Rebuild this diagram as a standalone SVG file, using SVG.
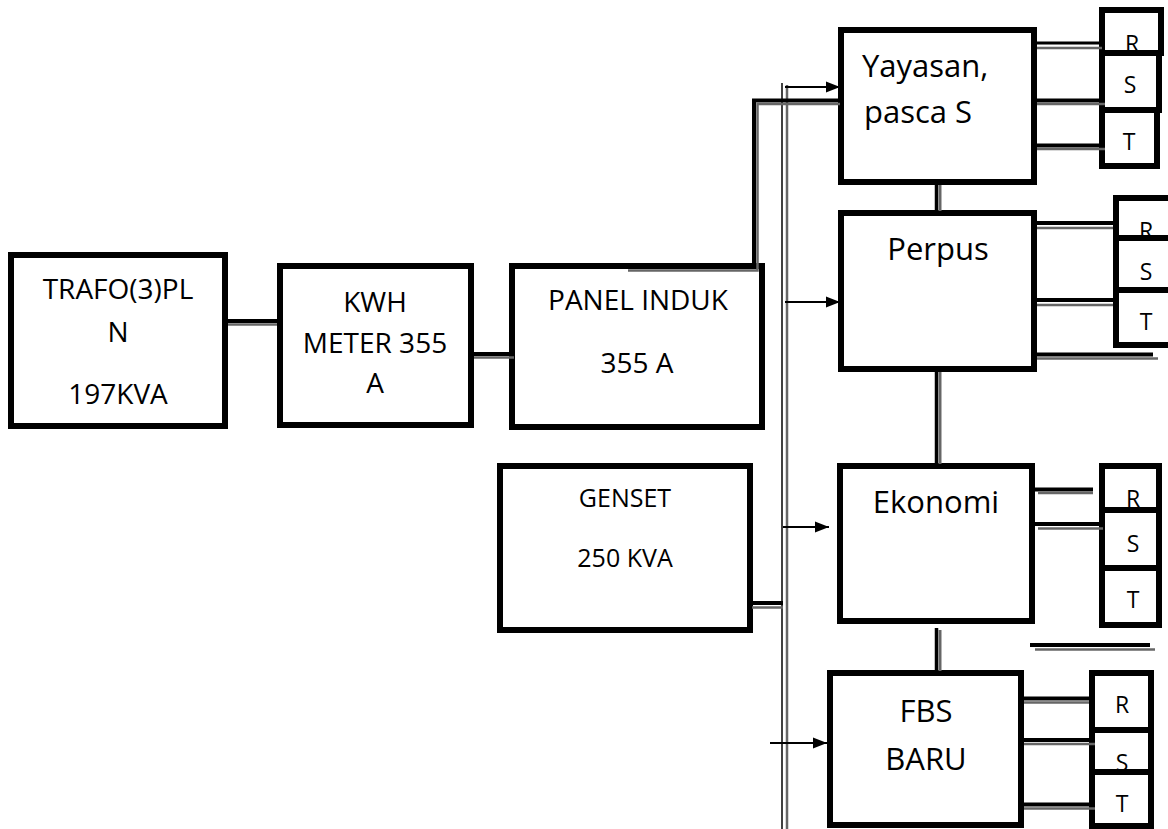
<svg xmlns="http://www.w3.org/2000/svg" width="1168" height="829" viewBox="0 0 1168 829">
<style>
.box{fill:#fff;stroke:#000;stroke-width:6}
.t{font-family:"Open Sans","Noto Sans","Liberation Sans",sans-serif;fill:#000;text-anchor:middle}
.f28{font-size:28px}
.f25{font-size:25px}
.f31{font-size:31px}
.f24{font-size:23px}
.cb{stroke:#000;stroke-width:4;fill:none}
.cg{stroke:#666;stroke-width:2.5;fill:none}
.arr{stroke:#000;stroke-width:2;fill:none;marker-end:url(#ah)}
</style>
<defs>
<marker id="ah" markerUnits="userSpaceOnUse" markerWidth="15" markerHeight="12" refX="14" refY="6" orient="auto">
<path d="M0,0.5 L14,6 L0,11.5 z" fill="#000"/>
</marker>
</defs>
<rect width="1168" height="829" fill="#fff"/>

<g id="trafo">
<rect class="box" x="11" y="255" width="214" height="171"/>
<text class="t f28" x="118" y="299">TRAFO(3)PL</text>
<text class="t f28" x="118" y="342">N</text>
<text class="t f28" x="118" y="404">197KVA</text>
</g>
<g id="kwh">
<rect class="box" x="280" y="266" width="191" height="159"/>
<text class="t f28" x="375" y="312">KWH</text>
<text class="t f28" x="375" y="353">METER 355</text>
<text class="t f28" x="375" y="393">A</text>
</g>
<g id="panel">
<rect class="box" x="512" y="266" width="250" height="161"/>
<text class="t f28" x="638" y="310">PANEL INDUK</text>
<text class="t f28" x="637" y="373">355 A</text>
</g>
<g id="genset">
<rect class="box" x="500" y="466" width="250" height="164"/>
<text class="t f25" x="625" y="507">GENSET</text>
<text class="t f25" x="625" y="567">250 KVA</text>
</g>
<g id="yayasan">
<rect class="box" x="841" y="30" width="193" height="152"/>
<text class="t f31" x="862" y="77" style="text-anchor:start">Yayasan,</text>
<text class="t f31" x="864" y="123" style="text-anchor:start">pasca S</text>
</g>
<g id="perpus">
<rect class="box" x="841" y="213" width="193" height="156"/>
<text class="t f31" x="938" y="260">Perpus</text>
</g>
<g id="ekonomi">
<rect class="box" x="840" y="466" width="192" height="155"/>
<text class="t f31" x="936" y="513">Ekonomi</text>
</g>
<g id="fbs">
<rect class="box" x="830" y="673" width="191" height="152"/>
<text class="t f31" x="926" y="722">FBS</text>
<text class="t f31" x="926" y="770">BARU</text>
</g>

<g id="rst-yayasan">
<rect class="box" x="1102" y="10" width="59" height="43"/>
<text class="t f24" x="1132" y="52">R</text>
<rect class="box" x="1102" y="53" width="57" height="57"/>
<text class="t f24" x="1130" y="93">S</text>
<rect class="box" x="1102" y="110" width="55" height="56"/>
<text class="t f24" x="1129" y="150">T</text>
</g>
<g id="rst-perpus">
<rect class="box" x="1116" y="198" width="60" height="40"/>
<text class="t f24" x="1146" y="239">R</text>
<rect class="box" x="1116" y="238" width="60" height="52"/>
<text class="t f24" x="1146" y="280">S</text>
<rect class="box" x="1116" y="290" width="60" height="55"/>
<text class="t f24" x="1146" y="330">T</text>
</g>
<g id="rst-ekonomi">
<rect class="box" x="1102" y="466" width="57" height="44"/>
<text class="t f24" x="1133" y="507">R</text>
<rect class="box" x="1102" y="510" width="57" height="58"/>
<text class="t f24" x="1133" y="552">S</text>
<rect class="box" x="1102" y="568" width="57" height="57"/>
<text class="t f24" x="1133" y="608">T</text>
</g>
<g id="rst-fbs">
<rect class="box" x="1092" y="673" width="59" height="57"/>
<text class="t f24" x="1122" y="713">R</text>
<rect class="box" x="1092" y="730" width="59" height="42"/>
<text class="t f24" x="1122" y="771">S</text>
<rect class="box" x="1092" y="772" width="59" height="54"/>
<text class="t f24" x="1122" y="812">T</text>
</g>

<g id="connectors">
<!-- bus -->
<line x1="782" y1="83" x2="782" y2="829" stroke="#000" stroke-width="1.5"/>
<line x1="787" y1="85" x2="787" y2="829" stroke="#666" stroke-width="2.5"/>
<!-- trafo - kwh -->
<line class="cb" x1="228" y1="321" x2="277" y2="321"/>
<line class="cg" x1="228" y1="324.5" x2="277" y2="324.5"/>
<!-- kwh - panel -->
<line class="cb" x1="474" y1="354" x2="512" y2="354"/>
<line class="cg" x1="474" y1="357.5" x2="514" y2="357.5"/>
<!-- panel - yayasan -->
<polyline class="cb" points="754,267 754,100.5 840,100.5"/>
<polyline class="cg" points="628,270.5 757.5,270.5 757.5,104 840,104"/>
<!-- genset - bus -->
<line class="cb" x1="752" y1="603" x2="783" y2="603"/>
<line class="cg" x1="752" y1="607.5" x2="783" y2="607.5"/>
<!-- arrows -->
<line class="arr" x1="785" y1="87" x2="840" y2="87"/>
<line class="arr" x1="785" y1="302" x2="840" y2="302"/>
<line class="arr" x1="783" y1="527" x2="829" y2="527"/>
<line class="arr" x1="770" y1="743" x2="827" y2="743"/>
<!-- verticals between buildings -->
<line x1="936.5" y1="185" x2="936.5" y2="211" stroke="#000" stroke-width="3.5"/>
<line x1="940" y1="185" x2="940" y2="211" stroke="#666" stroke-width="3"/>
<line x1="936.5" y1="372" x2="936.5" y2="464" stroke="#000" stroke-width="3.5"/>
<line x1="940" y1="372" x2="940" y2="464" stroke="#666" stroke-width="3"/>
<line x1="936.5" y1="628" x2="936.5" y2="671" stroke="#000" stroke-width="3.5"/>
<line x1="940" y1="630" x2="940" y2="671" stroke="#666" stroke-width="3"/>
<!-- yayasan RST -->
<line class="cb" x1="1037" y1="43" x2="1100" y2="43" style="stroke-width:3"/>
<line class="cg" x1="1037" y1="48" x2="1102" y2="48"/>
<line class="cb" x1="1037" y1="100.5" x2="1100" y2="100.5"/>
<line class="cg" x1="1037" y1="104" x2="1105" y2="104"/>
<line class="cb" x1="1037" y1="145.5" x2="1100" y2="145.5"/>
<line class="cg" x1="1037" y1="149" x2="1105" y2="149"/>
<!-- perpus RST -->
<line class="cb" x1="1037" y1="223" x2="1113" y2="223"/>
<line class="cg" x1="1037" y1="228" x2="1113" y2="228"/>
<line class="cb" x1="1037" y1="300" x2="1113" y2="300"/>
<line class="cg" x1="1037" y1="305" x2="1113" y2="305"/>
<line class="cb" x1="1037" y1="354.5" x2="1153" y2="354.5"/>
<line class="cg" x1="1037" y1="358.5" x2="1158" y2="358.5"/>
<!-- ekonomi RST -->
<line class="cb" x1="1035" y1="489.5" x2="1093" y2="489.5"/>
<line class="cg" x1="1038" y1="493" x2="1093" y2="493"/>
<line class="cb" x1="1035" y1="524" x2="1100" y2="524"/>
<line class="cg" x1="1038" y1="528.5" x2="1103" y2="528.5"/>
<line class="cb" x1="1030" y1="645" x2="1150" y2="645"/>
<line class="cg" x1="1035" y1="649.5" x2="1155" y2="649.5"/>
<!-- fbs RST -->
<line class="cb" x1="1024" y1="698.5" x2="1089" y2="698.5"/>
<line class="cg" x1="1024" y1="702.5" x2="1089" y2="702.5"/>
<line class="cb" x1="1024" y1="740" x2="1092" y2="740"/>
<line class="cg" x1="1024" y1="744" x2="1095" y2="744"/>
<line class="cb" x1="1024" y1="804.5" x2="1092" y2="804.5"/>
<line class="cg" x1="1024" y1="808.5" x2="1095" y2="808.5"/>
</g>
</svg>
